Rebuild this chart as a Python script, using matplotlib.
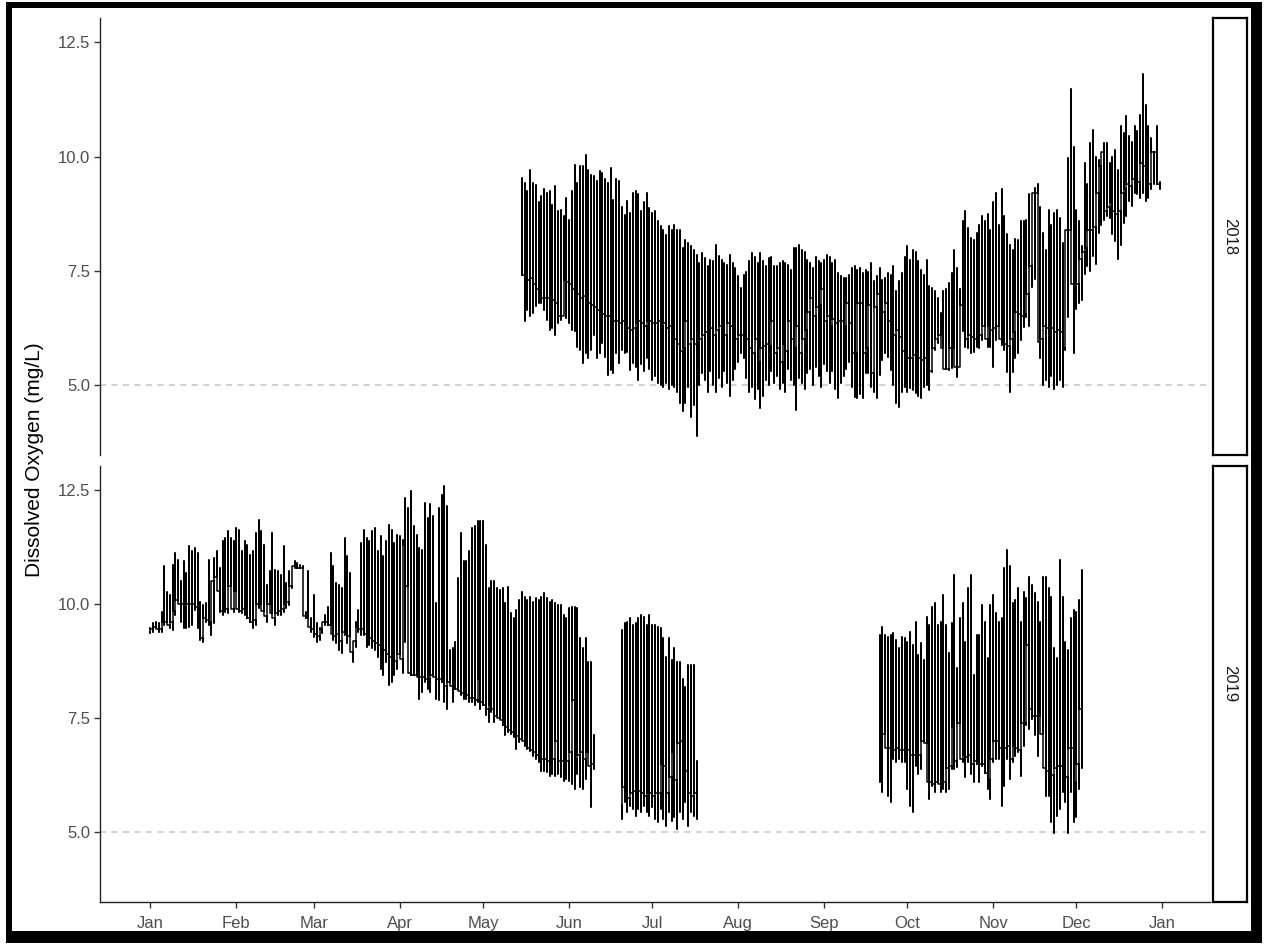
"""
Dissolved oxygen record at the monitoring station, 2018 and 2019,
one facet per year with the 5 mg/L threshold marked.
"""

import matplotlib
matplotlib.use("Agg")
import matplotlib.pyplot as plt
from matplotlib.patches import Rectangle
import numpy as np
import pandas as pd

plt.rcParams["font.family"] = ["Liberation Sans", "DejaVu Sans"]

# Daily readings: midnight value, daily minimum and daily maximum (mg/L)
start_2018 = "2018-05-15"
hi_2018 = [
    9.53, 9.42, 9.24, 9.7, 9.42, 9.38, 9.0, 9.13, 9.29, 9.2,
    9.24, 8.95, 9.36, 8.8, 8.82, 8.7, 9.1, 8.62, 9.24, 9.82,
    9.42, 9.79, 9.79, 10.04, 9.7, 9.6, 9.57, 9.46, 9.68, 9.64,
    9.5, 9.42, 9.75, 9.06, 9.5, 9.46, 8.9, 8.73, 9.02, 8.77,
    9.2, 9.24, 9.17, 8.8, 9.0, 9.2, 8.88, 8.77, 8.8, 8.6,
    8.48, 8.4, 8.29, 8.48, 8.4, 8.51, 8.4, 8.4, 8.0,
    8.18, 8.1, 8.04, 7.96, 7.85, 7.67, 7.89, 7.78, 7.6, 7.74,
    7.71, 8.07, 7.83, 7.74, 7.67, 7.63, 7.85, 7.67, 7.56, 7.38,
    7.12, 7.41, 7.48, 7.71, 7.89, 7.81, 7.67, 7.89, 7.71, 7.6,
    7.78, 7.81, 7.6, 7.6, 7.67, 7.71, 7.67, 7.63, 7.52, 8.0,
    8.0, 8.07, 7.96, 7.92, 7.74, 7.67, 7.56, 7.81, 7.71, 7.67,
    7.74, 7.85, 7.81, 7.67, 7.74, 7.45, 7.38, 7.34, 7.34, 7.41,
    7.56, 7.6, 7.52, 7.56, 7.45, 7.52, 7.48, 7.67, 7.27, 7.38,
    7.56, 7.3, 7.34, 7.45, 7.41, 7.6, 7.05, 7.27, 7.45, 7.81,
    8.04, 7.74, 7.96, 7.92, 7.71, 7.52, 7.41, 7.74, 7.16, 7.12,
    7.05, 6.9, 6.57, 7.05, 7.09, 7.23, 7.45, 7.96, 7.56, 7.09,
    8.6, 8.8, 8.43, 8.22, 8.18, 8.33, 8.5, 8.7, 8.6, 8.75,
    8.4, 9.0, 9.2, 8.5, 9.3, 8.7, 8.3, 8.07, 7.96, 8.2,
    8.18, 8.58, 8.58, 8.62, 9.17, 7.85, 9.32, 9.39, 8.9, 8.33,
    7.96, 8.84, 8.5, 8.77, 8.84, 8.66, 8.11, 8.4, 9.97, 11.48,
    10.22, 8.84, 8.6, 8.04, 9.86, 9.4, 10.3, 10.59, 10.0, 9.93,
    10.1, 10.3, 10.3, 9.86, 10.0, 10.15, 9.71, 10.66, 10.51, 10.88,
    10.44, 10.33, 10.66, 10.55, 10.9, 11.8, 11.14, 10.66, 10.4, 10.11,
    10.66, 9.45,
]
lo_2018 = [
    7.4, 6.39, 6.64, 6.5, 6.57, 6.72, 6.79, 6.8, 6.64, 6.43,
    6.21, 6.25, 6.1, 6.35, 6.43, 6.5, 6.47, 6.35, 6.21, 6.17,
    5.84, 5.77, 5.47, 5.7, 5.58, 5.77, 6.1, 5.58, 5.7, 5.92,
    5.62, 5.22, 5.33, 5.26, 5.7, 5.47, 5.77, 5.7, 5.73, 5.33,
    5.47, 5.4, 5.1, 5.45, 5.3, 5.6, 5.35, 5.1, 5.2, 5.05,
    5.0, 4.95, 5.05, 4.9, 5.0, 4.95, 4.85, 4.6, 4.42,
    4.6, 4.95, 4.3, 4.55, 3.88, 5.0, 5.25, 5.1, 4.85, 5.3,
    5.0, 4.85, 5.15, 4.95, 5.3, 5.05, 4.75, 5.1, 5.35, 5.5,
    5.7, 5.6, 5.15, 4.85, 4.95, 4.7, 4.9, 4.5, 4.75, 5.1,
    5.0, 5.3, 5.05, 5.2, 4.9, 5.05, 4.85, 5.35, 5.1, 5.0,
    4.45, 5.15, 5.05, 4.9, 5.25, 5.35, 5.0, 5.4, 5.2, 4.95,
    5.45, 5.3, 5.05, 5.3, 4.9, 4.72, 5.05, 5.2, 5.35, 5.5,
    4.96, 4.74, 4.71, 4.8, 4.71, 5.26, 5.26, 4.96, 4.85, 4.71,
    5.22, 5.55, 5.69, 5.62, 5.33, 5.0, 4.6, 4.52, 4.85, 4.96,
    4.85, 4.93, 4.89, 4.82, 4.75, 4.71, 4.96, 5.0, 4.89, 5.29,
    5.77, 5.91, 6.02, 5.69, 5.55, 5.33, 5.36, 5.47, 5.18, 5.4,
    6.17, 5.84, 5.8, 5.69, 5.73, 5.84, 5.8, 5.99, 6.02, 5.84,
    5.84, 5.4, 5.99, 6.13, 5.88, 5.77, 5.29, 4.85, 5.29, 5.6,
    5.69, 5.98, 6.27, 6.49, 6.3, 7.15, 7.31, 5.98, 5.6, 5.0,
    5.1, 4.95, 5.2, 4.9, 5.0, 5.1, 4.95, 5.77, 6.49, 8.4,
    5.69, 6.67, 6.8, 6.85, 7.43, 7.6, 7.5, 7.82, 7.64, 8.33,
    8.5, 8.62, 8.69, 8.66, 8.3, 8.15, 7.75, 8.07, 8.55, 8.69,
    9.02, 8.91, 9.2, 9.17, 9.1, 9.2, 9.02, 9.09, 9.3, 9.41,
    9.41, 9.3,
]
mid_2018 = [
    7.45, 7.4, 7.25, 7.3, 7.35, 7.2, 7.1, 7.05, 6.9, 6.9,
    6.9, 6.85, 6.85, 6.8, 6.5, 6.5, 7.3, 7.25, 7.2, 7.1,
    7.0, 7.0, 6.9, 6.95, 6.85, 6.8, 6.75, 6.7, 6.65, 6.6,
    6.55, 6.5, 6.5, 6.45, 6.4, 6.4, 6.35, 6.4, 6.3, 6.25,
    6.2, 6.25, 6.35, 6.4, 6.35, 6.3, 6.4, 6.4, 6.35, 6.35,
    6.4, 6.3, 6.35, 6.25, 6.3, 6.2, 6.0, 5.9, 5.75,
    5.8, 6.4, 5.9, 6.0, 5.9, 5.95, 6.0, 6.1, 6.15, 6.2,
    6.25, 6.1, 6.2, 6.3, 6.15, 6.1, 6.35, 6.3, 6.1, 6.0,
    6.1, 6.1, 6.05, 6.0, 5.8, 5.7, 6.0, 5.5, 5.8, 5.85,
    5.9, 5.85, 6.4, 5.7, 5.8, 5.5, 5.9, 5.75, 6.4, 6.0,
    5.8, 6.3, 5.7, 6.0, 6.2, 6.6, 6.9, 6.5, 6.7, 6.75,
    7.1, 6.4, 6.5, 6.3, 6.45, 6.35, 6.4, 6.4, 6.3, 6.8,
    6.35, 5.7, 5.7, 6.8, 6.8, 5.7, 5.8, 6.75, 5.25, 6.7,
    7.0, 6.7, 6.6, 6.8, 6.4, 6.2, 6.1, 6.2, 6.05, 5.75,
    5.7, 5.6, 5.6, 5.65, 5.6, 5.6, 5.55, 5.6, 5.3, 5.3,
    5.8, 6.0, 6.1, 5.8, 5.35, 5.35, 5.8, 5.8, 5.4, 5.4,
    6.75, 6.4, 6.0, 6.1, 6.05, 6.0, 6.05, 6.1, 6.3, 6.0,
    6.3, 6.2, 6.25, 6.3, 6.0, 5.9, 5.9, 5.85, 6.0, 6.15,
    6.6, 6.55, 6.5, 6.55, 7.0, 7.6, 9.2, 9.2, 5.95, 6.0,
    6.3, 6.25, 6.2, 6.25, 6.15, 6.2, 6.15, 5.8, 8.4, 8.4,
    7.2, 7.15, 7.2, 7.75, 7.9, 8.0, 8.4, 8.4, 8.45, 9.2,
    9.8, 10.1, 8.8, 8.9, 9.0, 8.8, 8.75, 8.8, 9.2, 9.3,
    9.4, 9.35, 9.5, 9.4, 9.45, 9.85, 9.8, 9.5, 9.4, 10.1,
    10.1, 9.4,
]

# 2019 has two gaps in the record, so it comes in three runs
start_2019a = "2019-01-01"
hi_2019a = [
    9.47, 9.58, 9.62, 9.58, 9.84, 10.83, 10.28, 10.2, 10.87, 11.13,
    10.98, 10.5, 10.94, 10.68, 11.27, 11.16, 11.24, 11.13, 10.06, 9.99,
    10.02, 10.98, 10.28, 11.02, 11.16, 10.79, 11.38, 11.46, 11.6, 11.46,
    11.38, 11.68, 11.64, 11.16, 11.38, 11.31, 11.09, 11.16, 11.57, 11.86,
    11.6, 11.31, 10.43, 10.72, 11.57, 10.75, 10.72, 10.65, 11.27, 10.46,
    10.72, 10.83, 10.94, 10.9, 10.87, 10.83, 9.84, 10.72, 9.69, 10.2,
    9.58, 9.47, 9.54, 9.77, 9.95, 11.13, 10.83, 10.46, 10.43, 10.35,
    11.45, 11.05, 10.68, 9.1, 9.62, 9.88, 11.34, 11.64, 11.45, 11.38,
    11.6, 11.68, 11.16, 11.49, 11.05, 11.38, 11.74, 11.64, 11.34, 11.53,
    11.49, 11.42, 12.33, 12.11, 12.48, 11.71, 11.53, 11.24, 11.2, 12.22,
    11.89, 12.19, 11.93, 10.02, 12.11, 12.4, 12.6, 12.15, 9.0, 9.03,
    9.18, 10.57, 11.57, 10.94, 10.94, 11.16, 11.68, 11.71, 11.82, 11.82,
    11.82, 11.31, 10.35, 10.5, 10.5, 10.35, 10.32, 10.35, 10.02, 10.39,
    9.8, 9.69, 9.88, 10.1, 10.28, 10.17, 10.1, 10.17, 10.06, 10.13,
    10.1, 10.17, 10.24, 10.13, 10.06, 10.1, 10.02, 9.99, 9.99, 9.77,
    9.69, 9.91, 9.95, 9.95, 9.91, 9.25, 9.03, 9.25, 8.74, 8.74, 7.12,
]
lo_2019a = [
    9.36, 9.4, 9.47, 9.4, 9.4, 9.54, 9.58, 9.47, 9.43, 9.77,
    10.1, 9.62, 9.47, 9.47, 9.51, 9.54, 9.88, 9.47, 9.21, 9.18,
    9.62, 9.54, 9.32, 9.58, 10.57, 9.84, 9.77, 9.84, 9.8, 9.91,
    9.84, 10.1, 9.84, 9.8, 9.77, 9.69, 9.62, 9.47, 9.54, 9.91,
    9.91, 9.77, 9.62, 9.91, 9.73, 9.54, 9.77, 9.77, 9.84, 9.91,
    9.99, 10.35, 10.79, 10.79, 10.79, 9.77, 9.69, 9.62, 9.4, 9.29,
    9.18, 9.21, 9.36, 9.54, 9.54, 9.47, 9.21, 9.14, 8.99, 8.92,
    9.32, 9.14, 9.03, 8.74, 9.06, 9.4, 9.32, 9.32, 9.06, 9.1,
    9.03, 8.99, 8.85, 8.59, 8.44, 8.74, 8.22, 8.29, 8.44, 8.59,
    8.88, 8.5, 9.18, 8.9, 8.44, 8.44, 8.66, 7.93, 8.07, 8.29,
    8.15, 8.07, 8.44, 7.93, 7.89, 8.29, 7.86, 7.71, 8.22, 7.86,
    8.15, 8.15, 8.0, 7.93, 7.93, 7.86, 7.86, 7.78, 7.86, 7.71,
    7.78, 7.56, 7.42, 7.64, 7.42, 7.56, 7.49, 7.34, 7.12, 7.2,
    7.16, 7.09, 6.83, 6.97, 7.05, 6.9, 6.83, 6.79, 6.68, 6.61,
    6.53, 6.35, 6.35, 6.31, 6.24, 6.28, 6.24, 6.28, 6.2, 6.13,
    6.17, 6.13, 6.06, 5.95, 6.28, 5.98, 5.95, 6.17, 6.53, 5.56, 6.39,
]
mid_2019a = [
    9.4, 9.45, 9.5, 9.45, 9.45, 9.6, 9.6, 9.55, 9.6, 9.85,
    10.1, 10.0, 10.0, 9.95, 10.0, 10.0, 10.0, 9.95, 9.7, 9.25,
    9.7, 9.65, 9.6, 10.5, 10.6, 10.3, 9.85, 9.85, 9.9, 10.4,
    9.9, 10.3, 9.9, 9.85, 9.9, 9.8, 9.7, 9.6, 9.65, 10.0,
    10.0, 9.85, 9.75, 10.0, 9.8, 9.7, 9.8, 9.85, 9.9, 10.0,
    10.05, 10.4, 10.85, 10.85, 10.8, 10.8, 9.75, 9.7, 9.5, 9.45,
    9.35, 9.3, 9.45, 9.6, 9.6, 9.55, 9.35, 9.3, 9.35, 9.2,
    9.4, 9.35, 9.3, 8.95, 9.2, 9.5, 9.45, 9.45, 9.35, 9.3,
    9.25, 9.2, 9.15, 9.1, 9.0, 9.0, 8.9, 8.85, 8.8, 8.75,
    8.9, 8.8, 11.3, 10.4, 8.5, 8.45, 8.45, 8.4, 8.4, 8.4,
    8.35, 8.35, 8.45, 8.4, 8.35, 8.35, 8.3, 8.2, 8.3, 8.2,
    8.2, 8.15, 8.1, 8.05, 8.05, 8.0, 7.95, 7.95, 7.9, 8.35,
    7.85, 7.8, 7.7, 7.8, 7.7, 7.55, 7.5, 7.45, 7.35, 7.3,
    7.25, 7.2, 7.15, 7.1, 7.05, 7.0, 6.95, 6.85, 6.8, 6.75,
    6.7, 6.65, 6.6, 6.6, 6.55, 6.55, 6.6, 7.0, 6.55, 6.55,
    6.6, 6.55, 6.75, 7.9, 6.6, 6.7, 6.75, 6.6, 6.75, 6.45, 6.5,
]

start_2019b = "2019-06-20"
hi_2019b = [
    9.43, 9.58, 9.62, 9.69, 9.54, 9.58, 9.69, 9.76, 9.73, 9.54,
    9.76, 9.54, 9.54, 9.51, 9.47, 9.25, 8.85, 9.25, 8.78, 9.03,
    8.74, 8.74, 8.37, 8.19, 8.66, 8.66, 8.66, 6.57,
]
lo_2019b = [
    5.29, 5.65, 5.43, 5.58, 5.5, 5.36, 5.5, 5.43, 5.58, 5.43,
    5.36, 5.54, 5.29, 5.21, 5.5, 5.29, 5.14, 5.43, 5.25, 5.32,
    5.06, 5.43, 5.29, 5.65, 5.14, 5.43, 5.36, 5.29,
]
mid_2019b = [
    5.6, 6.0, 5.85, 5.75, 5.85, 5.9, 5.85, 5.9, 5.85, 5.8,
    5.85, 5.85, 5.8, 5.85, 5.85, 6.5, 6.45, 5.85, 6.2, 6.75,
    6.15, 6.95, 7.0, 6.6, 6.35, 5.85, 5.8, 5.85,
]

start_2019c = "2019-09-21"
hi_2019c = [
    9.33, 9.51, 9.33, 9.29, 9.33, 9.36, 9.21, 9.03, 9.29, 9.25,
    9.18, 9.4, 9.11, 9.62, 8.88, 9.14, 8.77, 9.73, 9.55, 9.95,
    10.02, 9.55, 9.62, 10.21, 9.55, 8.93, 9.58, 10.65, 8.6, 9.69,
    10.02, 9.18, 10.35, 10.65, 8.45, 9.33, 9.33, 9.98, 9.62, 8.81,
    9.98, 10.21, 9.8, 9.62, 9.69, 10.79, 11.2, 10.83, 10.02, 10.09,
    10.35, 9.62, 10.28, 10.13, 10.6, 10.43, 10.24, 10.06, 9.62, 10.6,
    10.6, 10.35, 10.17, 9.03, 8.81, 10.98, 10.17, 9.18, 8.99, 9.69,
    9.88, 9.84, 10.09, 10.75,
]
lo_2019c = [
    6.09, 5.87, 6.9, 5.8, 5.65, 6.61, 6.53, 6.61, 6.53, 6.53,
    5.94, 5.58, 5.43, 6.46, 6.28, 6.39, 6.97, 6.75, 5.72, 6.02,
    5.87, 6.09, 5.87, 5.94, 5.87, 5.94, 6.39, 6.39, 6.43, 7.32,
    6.53, 6.2, 6.53, 6.28, 6.09, 6.5, 6.09, 6.46, 6.3, 5.94,
    5.72, 6.53, 6.61, 6.61, 5.58, 6.02, 6.61, 6.17, 6.53, 6.68,
    6.75, 6.24, 6.9, 7.34, 7.27, 7.49, 7.12, 6.68, 7.2, 6.83,
    5.8, 5.8, 5.21, 4.99, 5.36, 5.51, 5.87, 5.65, 4.99, 5.87,
    5.21, 5.32, 5.94, 6.4,
]
mid_2019c = [
    7.15, 7.15, 7.15, 6.85, 6.85, 6.8, 6.8, 6.85, 6.8, 6.8,
    6.75, 6.8, 6.7, 6.7, 6.65, 6.7, 7.0, 6.95, 6.1, 6.1,
    6.05, 6.1, 6.05, 6.05, 6.1, 6.4, 6.45, 7.3, 6.55, 7.4,
    6.6, 6.7, 6.65, 6.7, 6.5, 6.55, 6.5, 6.5, 6.5, 6.3,
    6.15, 6.6, 7.0, 7.0, 6.85, 6.9, 6.85, 6.9, 6.6, 6.9,
    6.85, 6.8, 7.4, 7.4, 9.1, 7.7, 7.55, 7.55, 7.55, 7.15,
    6.4, 6.35, 6.3, 6.25, 6.4, 6.45, 6.45, 6.45, 6.2, 6.85,
    6.85, 6.1, 6.5, 7.7,
]

years = ["2018", "2019"]
month_labels = ["Jan", "Feb", "Mar", "Apr", "May", "Jun", "Jul",
                "Aug", "Sep", "Oct", "Nov", "Dec", "Jan"]
y_ticks = [5.0, 7.5, 10.0, 12.5]
threshold = 5.0

W, H = 1265, 946


def day_path(start, lo, hi, mid):
    """Trace each day as a vertical stroke, joined at the midnight value."""
    d0 = pd.Timestamp(start).dayofyear - 1
    xs, ys = [], []
    for i in range(len(lo)):
        nxt = mid[i + 1] if i + 1 < len(lo) else mid[i]
        xs += [d0 + i] * 4
        ys += [mid[i], lo[i], hi[i], nxt]
    return xs, ys


def px_box(x0, y0, x1, y1):
    """Figure-fraction rect from pixel corners (top-left origin)."""
    return [x0 / W, 1 - y1 / H, (x1 - x0) / W, (y1 - y0) / H]


fig = plt.figure(figsize=(W / 100, H / 100), dpi=100)
fig.patch.set_facecolor("white")

ax18 = fig.add_axes(px_box(100, 18, 1210, 455))
ax19 = fig.add_axes(px_box(100, 466, 1210, 902))

series = {
    ax18: [(start_2018, lo_2018, hi_2018, mid_2018)],
    ax19: [(start_2019a, lo_2019a, hi_2019a, mid_2019a),
           (start_2019b, lo_2019b, hi_2019b, mid_2019b),
           (start_2019c, lo_2019c, hi_2019c, mid_2019c)],
}

month_starts = [pd.Timestamp(2019, m, 1).dayofyear - 1 for m in range(1, 13)] + [365]

for ax, runs in series.items():
    ax.axhline(threshold, color="#c4c4c4", lw=1.1, ls=(0, (4, 3.5)), zorder=1)
    for run in runs:
        xs, ys = day_path(*run)
        ax.plot(xs, ys, color="black", lw=1.1, zorder=2)
    ax.set_xlim(-18.2, 382.2)
    ax.set_ylim(3.465, 13.035)
    ax.set_yticks(y_ticks)
    ax.set_yticklabels([f"{v:.1f}" for v in y_ticks])
    ax.set_xticks(month_starts)
    ax.set_xticklabels(month_labels)
    for side in ("top", "right"):
        ax.spines[side].set_visible(False)
    for side in ("left", "bottom"):
        ax.spines[side].set_color("#222222")
        ax.spines[side].set_linewidth(1.0)
    ax.tick_params(axis="both", length=4, width=1.0, color="#333333",
                   labelcolor="#4d4d4d", labelsize=12, pad=3)
    ax.tick_params(axis="x", pad=6)
    ax.set_facecolor("white")

ax18.spines["bottom"].set_visible(False)
ax18.tick_params(axis="x", bottom=False, labelbottom=False)

# facet strips on the right
for (y0, y1), label in zip([(18, 455), (466, 902)], years):
    sax = fig.add_axes(px_box(1213, y0, 1247, y1))
    sax.set_xticks([])
    sax.set_yticks([])
    for sp in sax.spines.values():
        sp.set_linewidth(1.6)
        sp.set_color("black")
    sax.text(0.5, 0.5, label, rotation=-90, ha="center", va="center",
             fontsize=12, color="#1a1a1a", transform=sax.transAxes)

fig.text(35 / W, 1 - 460 / H, "Dissolved Oxygen (mg/L)", rotation=90,
         ha="center", va="center", fontsize=15, color="black")

# heavy black frame around the whole graphic
for x0, y0, x1, y1 in [(6, 2, 1262, 8), (6, 931, 1262, 943),
                       (6, 2, 12, 943), (1251, 2, 1262, 943)]:
    fig.patches.append(Rectangle((x0 / W, 1 - y1 / H), (x1 - x0) / W,
                                 (y1 - y0) / H, transform=fig.transFigure,
                                 facecolor="black", edgecolor="none"))

fig.savefig("out.png", dpi=100)
